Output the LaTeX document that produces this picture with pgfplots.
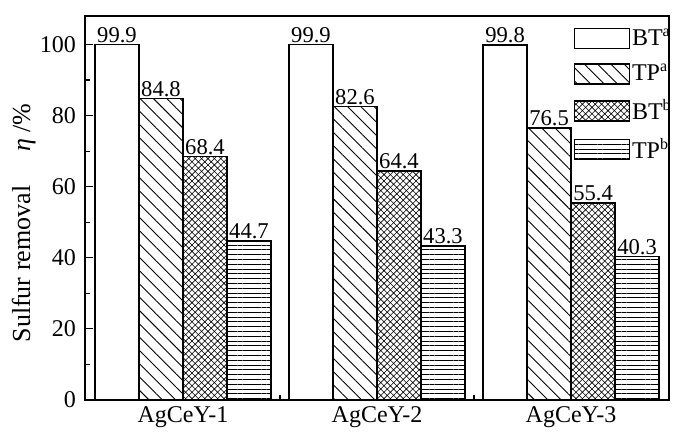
\documentclass[border=0pt]{standalone}
\usepackage{fontspec}
\setmainfont{Liberation Serif}
\usepackage{pgfplots}
\pgfplotsset{compat=1.18}
\usetikzlibrary{patterns,patterns.meta}

\pgfdeclarepatternformonly{xhatch}{\pgfqpoint{-1pt}{-1pt}}{\pgfqpoint{4.2pt}{4.2pt}}{\pgfqpoint{3.2pt}{3.2pt}}{%
 \pgfsetlinewidth{0.3pt}%
 \pgfpathmoveto{\pgfqpoint{-0.1pt}{-0.1pt}}\pgfpathlineto{\pgfqpoint{3.3pt}{3.3pt}}%
 \pgfpathmoveto{\pgfqpoint{-0.1pt}{3.3pt}}\pgfpathlineto{\pgfqpoint{3.3pt}{-0.1pt}}%
 \pgfusepath{stroke}}

\newcommand{\f}{\fontsize{11.3}{13}\selectfont}
\newcommand{\g}{\fontsize{12}{14}\selectfont}

\begin{document}
\begin{tikzpicture}
\path[use as bounding box] (0,0) rectangle (350pt,218.5pt);
\begin{axis}[
  at={(42.5pt,18.5pt)}, anchor=south west,
  scale only axis, width=292pt, height=192pt,
  ybar=0pt, bar width=22pt,
  xmin=-0.505, xmax=2.505,
  ymin=0, ymax=108,
  xtick={0,1,2},
  xticklabels={AgCeY-1,AgCeY-2,AgCeY-3},
  minor xtick={0.5,1.5},
  major x tick style={draw=none},
  ytick={0,20,40,60,80,100},
  minor ytick={10,30,50,70,90},
  xtick pos=bottom, ytick pos=left,
  tick align=inside,
  major tick length=4pt, minor tick length=2.5pt,
  axis line style={line width=0.6pt},
  tick style={line width=0.6pt, black},
  tick label style={font=\g},
  yticklabel style={xshift=-1pt},
  /pgf/number format/assume math mode=true,
  ylabel={Sulfur removal\hspace{1.3em}\textit{η} /\%},
  ylabel style={at={(axis description cs:-0.105,0.461)}, anchor=center, rotate=0, font=\fontsize{13}{15}\selectfont},
  nodes near coords,
  every node near coord/.append style={font=\f, inner sep=0.6pt, anchor=south},
  legend image code/.code={\draw[#1] (0pt,-5pt) rectangle (27.5pt,5pt);},
  legend style={at={(axis description cs:0.836,0.972)}, anchor=north west,
    draw=none, fill=none, font=\g, row sep=6pt, inner sep=0pt,
    nodes={inner sep=1pt}},
  legend cell align=left,
]
\addplot[draw=black, line width=0.7pt, fill=white] coordinates {(0,99.9) (1,99.9) (2,99.8)};
\addplot[draw=black, line width=0.7pt, pattern={Lines[angle=-45, distance=4.7pt, line width=0.45pt]}] coordinates {(0,84.8) (1,82.6) (2,76.5)};
\addplot[draw=black, line width=0.7pt, pattern=xhatch] coordinates {(0,68.4) (1,64.4) (2,55.4)};
\addplot[draw=black, line width=0.7pt, pattern={Lines[angle=0, distance=2.4pt, line width=0.45pt]}] coordinates {(0,44.7) (1,43.3) (2,40.3)};
\legend{BT\textsuperscript{a},TP\textsuperscript{a},BT\textsuperscript{b},TP\textsuperscript{b}}
\end{axis}
\end{tikzpicture}
\end{document}
